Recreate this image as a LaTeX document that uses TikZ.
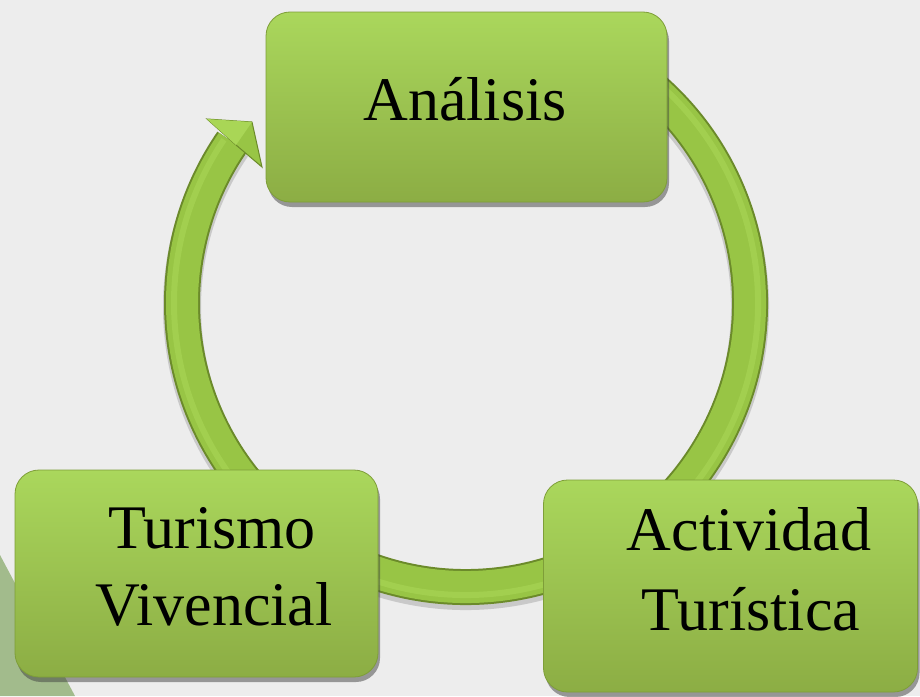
\documentclass[tikz,border=0pt]{standalone}
\usepackage{fontspec}
\setmainfont{Liberation Serif}
\usetikzlibrary{shadows,calc}
\definecolor{bg}{HTML}{EDEDED}
\definecolor{ringdark}{HTML}{6B8A2A}
\definecolor{ringmain}{HTML}{98C545}
\definecolor{ringlight}{HTML}{A9D656}
\definecolor{boxtop}{HTML}{AAD75C}
\definecolor{boxbot}{HTML}{8CAD44}
\definecolor{boxedge}{HTML}{7E9E38}
\definecolor{tri}{HTML}{A2BB8C}
\tikzset{
  greenbox/.style={rectangle, rounded corners=24pt, draw=boxedge, line width=0.8pt,
    top color=boxtop, bottom color=boxbot, inner sep=0pt,
    drop shadow={shadow xshift=2pt, shadow yshift=-5pt, opacity=0.5, fill=black!75}},
  lbl/.style={font=\fontsize{62}{62}\selectfont, text=black, inner sep=0pt, anchor=base},
}
\begin{document}
\begin{tikzpicture}[x=1pt, y=-1pt]
\useasboundingbox (0,0) rectangle (920,696);
\fill[bg] (0,0) rectangle (920,696);
% faint triangle bottom-left
\fill[tri] (0,555) -- (75,696) -- (0,696) -- cycle;
% ring
\coordinate (c) at (466,303);
\draw[black, opacity=0.15, line width=38pt] (c) ++(-60:284) ++(0,4) arc[start angle=-60, end angle=214.6, radius=284];
\draw[ringdark, line width=36pt] (c) ++(-60:284) arc[start angle=-60, end angle=214.6, radius=284];
\draw[ringmain, line width=32pt] (c) ++(-60:284) arc[start angle=-60, end angle=214.6, radius=284];
\draw[ringlight, line width=6pt, opacity=0.6] (c) ++(-60:292) arc[start angle=-60, end angle=214, radius=292];
% arrowhead
\coordinate (h1) at (207,119);
\coordinate (h2) at (252,122);
\coordinate (h3) at (262,167);
\coordinate (hb) at (236,145);
\fill[ringmain, draw=ringdark, line width=1pt, line join=miter] (h1) -- (h2) -- (h3) -- (hb) -- cycle;
\fill[ringlight] (h1) -- (h2) -- (hb) -- cycle;
% boxes
\node[greenbox, minimum width=401pt, minimum height=190pt] (ana) at (466.5,107) {};
\node[greenbox, minimum width=363pt, minimum height=207pt] (tur) at (196.5,573.5) {};
\node[greenbox, minimum width=374pt, minimum height=212pt] (act) at (730.5,586) {};
% labels
\node[lbl] (tA) at (465,120) {Análisis};
\node[lbl] (tT1) at (212,548) {Turismo};
\node[lbl] (tT2) at (214,625) {Vivencial};
\node[lbl] (tC1) at (749,550) {Actividad};
\node[lbl] (tC2) at (751,630) {Turística};
\end{tikzpicture}
\end{document}
